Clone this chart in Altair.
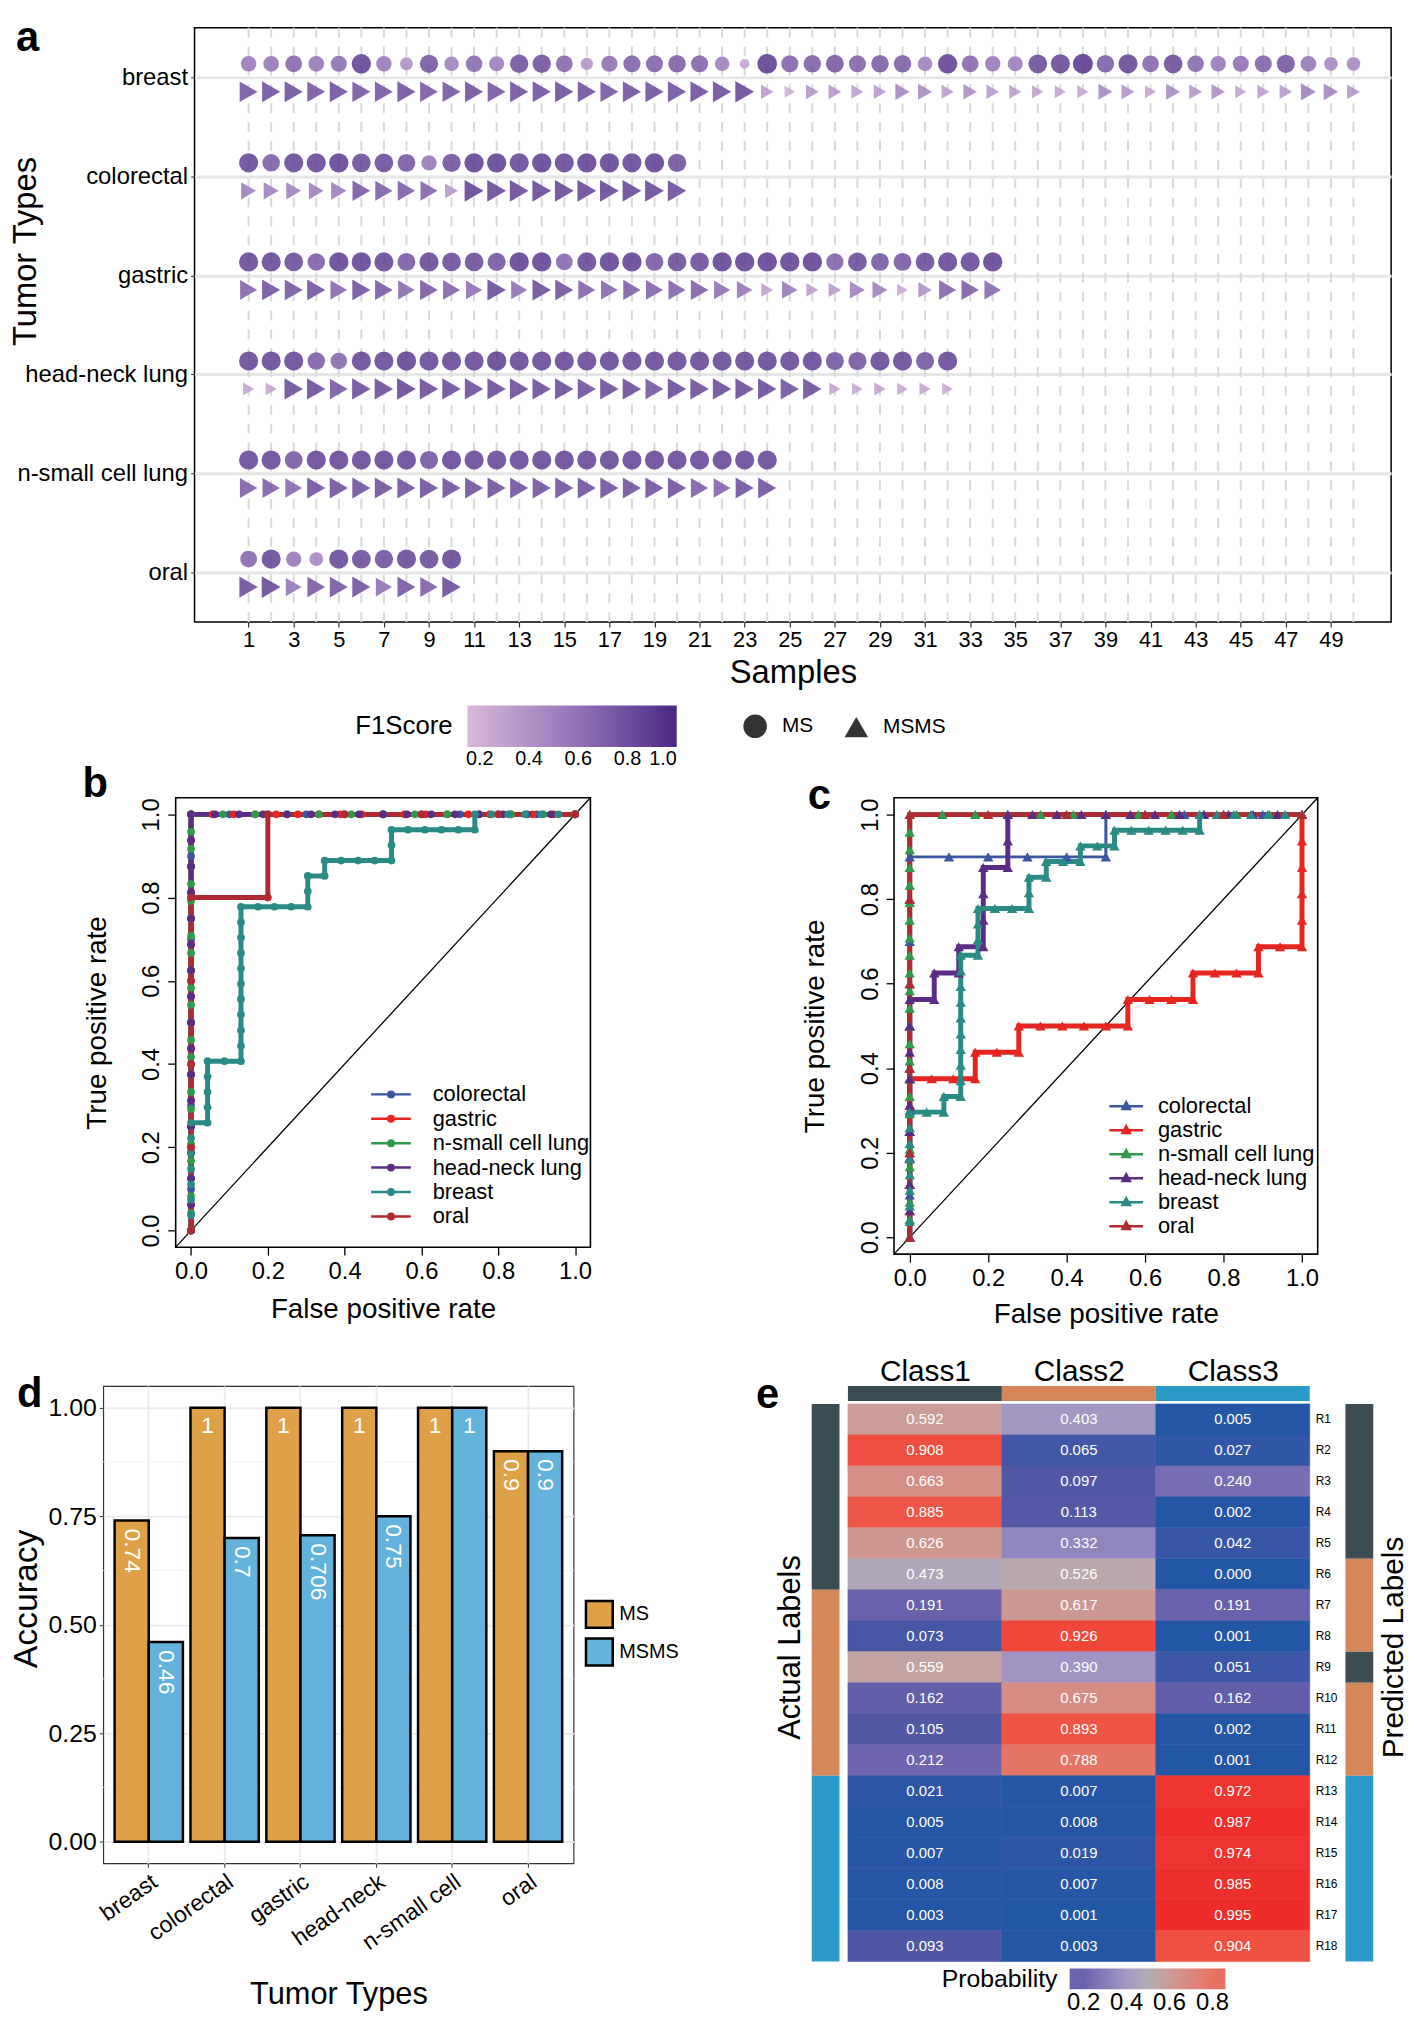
import altair as alt
import pandas as pd

FONT = "Liberation Sans"

# ---------------- panel a : F1 score per sample ----------------
TUMORS_A = ["breast", "colorectal", "gastric", "head-neck lung", "n-small cell lung", "oral"]
BREAST_MS = [0.60, 0.62, 0.70, 0.62, 0.65, 0.90, 0.60, 0.45, 0.80, 0.55,
             0.68, 0.58, 0.82, 0.82, 0.70, 0.42, 0.65, 0.72, 0.72, 0.75,
             0.72, 0.55, 0.30, 0.92, 0.72, 0.75, 0.78, 0.72, 0.75, 0.75,
             0.55, 0.90, 0.70, 0.60, 0.58, 0.85, 0.88, 0.95, 0.75, 0.88,
             0.70, 0.85, 0.68, 0.60, 0.65, 0.72, 0.80, 0.62, 0.50, 0.50]
BREAST_MSMS = [0.80, 0.82, 0.82, 0.80, 0.82, 0.80, 0.80, 0.82, 0.78, 0.80,
               0.82, 0.80, 0.82, 0.82, 0.84, 0.82, 0.80, 0.82, 0.82, 0.82,
               0.84, 0.84, 0.88, 0.38, 0.25, 0.40, 0.40, 0.35, 0.38, 0.50,
               0.48, 0.35, 0.45, 0.38, 0.35, 0.32, 0.30, 0.30, 0.48, 0.42,
               0.30, 0.48, 0.40, 0.45, 0.30, 0.35, 0.38, 0.55, 0.52, 0.40]
COLORECTAL_MS = [0.88, 0.75, 0.88, 0.88, 0.90, 0.85, 0.85, 0.78, 0.60, 0.82,
                 0.90, 0.90, 0.88, 0.90, 0.88, 0.90, 0.90, 0.88, 0.90, 0.82]
COLORECTAL_MSMS = [0.55, 0.55, 0.55, 0.55, 0.58, 0.78, 0.75, 0.75, 0.72, 0.40,
                   0.90, 0.88, 0.88, 0.88, 0.88, 0.88, 0.88, 0.88, 0.88, 0.85]
GASTRIC_MS = [0.88, 0.88, 0.85, 0.75, 0.90, 0.90, 0.88, 0.78, 0.88, 0.85,
              0.85, 0.80, 0.90, 0.90, 0.70, 0.88, 0.90, 0.90, 0.78, 0.85,
              0.85, 0.90, 0.90, 0.90, 0.90, 0.90, 0.72, 0.85, 0.78, 0.78,
              0.85, 0.88, 0.88, 0.90]
GASTRIC_MSMS = [0.72, 0.82, 0.80, 0.82, 0.70, 0.82, 0.78, 0.68, 0.78, 0.72,
                0.65, 0.85, 0.65, 0.85, 0.82, 0.72, 0.70, 0.75, 0.72, 0.72,
                0.75, 0.65, 0.60, 0.35, 0.60, 0.35, 0.38, 0.55, 0.55, 0.28,
                0.45, 0.72, 0.75, 0.68]
HNL_MS = [0.88, 0.88, 0.88, 0.75, 0.68, 0.88, 0.88, 0.90, 0.88, 0.88,
          0.88, 0.90, 0.88, 0.88, 0.88, 0.88, 0.88, 0.88, 0.88, 0.88,
          0.88, 0.88, 0.88, 0.88, 0.88, 0.88, 0.80, 0.80, 0.88, 0.88,
          0.80, 0.88]
HNL_MSMS = [0.30, 0.30, 0.85, 0.85, 0.78, 0.85, 0.85, 0.88, 0.85, 0.85,
            0.85, 0.85, 0.85, 0.85, 0.85, 0.82, 0.85, 0.85, 0.80, 0.85,
            0.85, 0.85, 0.85, 0.85, 0.82, 0.85, 0.30, 0.28, 0.32, 0.28,
            0.30, 0.28]
NSCLC_MS = [0.88, 0.88, 0.78, 0.88, 0.88, 0.88, 0.88, 0.88, 0.80, 0.88,
            0.88, 0.88, 0.88, 0.88, 0.88, 0.88, 0.88, 0.88, 0.88, 0.88,
            0.88, 0.88, 0.88, 0.88]
NSCLC_MSMS = [0.75, 0.75, 0.70, 0.82, 0.82, 0.82, 0.82, 0.82, 0.82, 0.82,
              0.82, 0.82, 0.82, 0.82, 0.82, 0.82, 0.82, 0.82, 0.82, 0.82,
              0.75, 0.72, 0.82, 0.82]
ORAL_MS = [0.70, 0.88, 0.60, 0.50, 0.88, 0.85, 0.82, 0.88, 0.85, 0.88]
ORAL_MSMS = [0.85, 0.88, 0.62, 0.78, 0.80, 0.82, 0.65, 0.80, 0.75, 0.85]
SAMPLE_TICKS = [1, 3, 5, 7, 9, 11, 13, 15, 17, 19, 21, 23, 25, 27, 29, 31, 33,
                35, 37, 39, 41, 43, 45, 47, 49]
F1_TICKS = [0.2, 0.4, 0.6, 0.8, 1.0]

# ---------------- panels b / c : ROC curves ----------------
ROC_SERIES = ["colorectal", "gastric", "n-small cell lung", "head-neck lung", "breast", "oral"]
ROC_COLORS = ["#3c55a0", "#e5251f", "#2f9a49", "#5b2c86", "#2a8a84", "#b22a31"]
ROC_TICKS = [0.0, 0.2, 0.4, 0.6, 0.8, 1.0]

B_COLORECTAL = [(0, 0), (0, 0.1), (0, 0.2), (0, 0.3), (0, 0.4), (0, 0.5), (0, 0.6), (0, 0.7),
                (0, 0.8), (0, 0.9), (0, 1), (0.1, 1), (0.2, 1), (0.3, 1), (0.4, 1), (0.5, 1),
                (0.6, 1), (0.7, 1), (0.8, 1), (0.9, 1), (1, 1)]
B_GASTRIC = [(0, 0), (0, 0.0625), (0, 0.125), (0, 0.1875), (0, 0.25), (0, 0.3125), (0, 0.375),
             (0, 0.4375), (0, 0.5), (0, 0.5625), (0, 0.625), (0, 0.6875), (0, 0.75), (0, 0.8125),
             (0, 0.875), (0, 0.9375), (0, 1), (0.056, 1), (0.111, 1), (0.167, 1), (0.222, 1),
             (0.278, 1), (0.333, 1), (0.389, 1), (0.444, 1), (0.5, 1), (0.556, 1), (0.611, 1),
             (0.667, 1), (0.722, 1), (0.778, 1), (0.833, 1), (0.889, 1), (0.944, 1), (1, 1)]
B_NSCLC = [(0, 0), (0, 0.042), (0, 0.083), (0, 0.125), (0, 0.167), (0, 0.208), (0, 0.25),
           (0, 0.292), (0, 0.333), (0, 0.375), (0, 0.417), (0, 0.458), (0, 0.5), (0, 0.542),
           (0, 0.583), (0, 0.625), (0, 0.667), (0, 0.708), (0, 0.75), (0, 0.792), (0, 0.833),
           (0, 0.875), (0, 0.917), (0, 0.958), (0, 1), (0.083, 1), (0.167, 1), (0.25, 1),
           (0.333, 1), (0.417, 1), (0.5, 1), (0.583, 1), (0.667, 1), (0.75, 1), (0.833, 1),
           (0.917, 1), (1, 1)]
B_HNL = [(0, 0), (0, 0.0625), (0, 0.125), (0, 0.1875), (0, 0.25), (0, 0.3125), (0, 0.375),
         (0, 0.4375), (0, 0.5), (0, 0.5625), (0, 0.625), (0, 0.6875), (0, 0.75), (0, 0.8125),
         (0, 0.875), (0, 0.9375), (0, 1), (0.0625, 1), (0.125, 1), (0.1875, 1), (0.25, 1),
         (0.3125, 1), (0.375, 1), (0.4375, 1), (0.5, 1), (0.5625, 1), (0.625, 1), (0.6875, 1),
         (0.75, 1), (0.8125, 1), (0.875, 1), (0.9375, 1), (1, 1)]
B_BREAST = [(0, 0), (0, 0.037), (0, 0.074), (0, 0.111), (0, 0.148), (0, 0.185), (0, 0.222),
            (0, 0.259), (0.043, 0.259), (0.043, 0.296), (0.043, 0.333), (0.043, 0.37),
            (0.043, 0.407), (0.087, 0.407), (0.13, 0.407), (0.13, 0.444), (0.13, 0.481),
            (0.13, 0.519), (0.13, 0.556), (0.13, 0.593), (0.13, 0.63), (0.13, 0.667),
            (0.13, 0.704), (0.13, 0.741), (0.13, 0.778), (0.174, 0.778), (0.217, 0.778),
            (0.261, 0.778), (0.304, 0.778), (0.304, 0.815), (0.304, 0.852), (0.348, 0.852),
            (0.348, 0.889), (0.391, 0.889), (0.435, 0.889), (0.478, 0.889), (0.522, 0.889),
            (0.522, 0.926), (0.522, 0.963), (0.565, 0.963), (0.609, 0.963), (0.652, 0.963),
            (0.696, 0.963), (0.739, 0.963), (0.739, 1), (0.783, 1), (0.826, 1), (0.87, 1),
            (0.913, 1), (0.957, 1), (1, 1)]
B_ORAL = [(0, 0), (0, 0.2), (0, 0.4), (0, 0.6), (0, 0.8), (0.2, 0.8), (0.2, 1), (0.4, 1),
          (0.6, 1), (0.8, 1), (1, 1)]

C_COLORECTAL = [(0, 0), (0, 0.1), (0, 0.2), (0, 0.3), (0, 0.4), (0, 0.5), (0, 0.6), (0, 0.7),
                (0, 0.8), (0, 0.9), (0.1, 0.9), (0.2, 0.9), (0.3, 0.9), (0.4, 0.9), (0.5, 0.9),
                (0.5, 1), (0.6, 1), (0.7, 1), (0.8, 1), (0.9, 1), (1, 1)]
C_GASTRIC = [(0, 0), (0, 0.0625), (0, 0.125), (0, 0.1875), (0, 0.25), (0, 0.3125), (0, 0.375),
             (0.056, 0.375), (0.111, 0.375), (0.167, 0.375), (0.167, 0.4375), (0.222, 0.4375),
             (0.278, 0.4375), (0.278, 0.5), (0.333, 0.5), (0.389, 0.5), (0.444, 0.5), (0.5, 0.5),
             (0.556, 0.5), (0.556, 0.5625), (0.611, 0.5625), (0.667, 0.5625), (0.722, 0.5625),
             (0.722, 0.625), (0.778, 0.625), (0.833, 0.625), (0.889, 0.625), (0.889, 0.6875),
             (0.944, 0.6875), (1, 0.6875), (1, 0.75), (1, 0.8125), (1, 0.875), (1, 0.9375),
             (1, 1)]
C_NSCLC = [(0, 0), (0, 0.042), (0, 0.083), (0, 0.125), (0, 0.167), (0, 0.208), (0, 0.25),
           (0, 0.292), (0, 0.333), (0, 0.375), (0, 0.417), (0, 0.458), (0, 0.5), (0, 0.542),
           (0, 0.583), (0, 0.625), (0, 0.667), (0, 0.708), (0, 0.75), (0, 0.792), (0, 0.833),
           (0, 0.875), (0, 0.917), (0, 0.958), (0, 1), (0.083, 1), (0.167, 1), (0.25, 1),
           (0.333, 1), (0.417, 1), (0.5, 1), (0.583, 1), (0.667, 1), (0.75, 1), (0.833, 1),
           (0.917, 1), (1, 1)]
C_HNL = [(0, 0), (0, 0.0625), (0, 0.125), (0, 0.1875), (0, 0.25), (0, 0.3125), (0, 0.375),
         (0, 0.4375), (0, 0.5), (0, 0.5625), (0.0625, 0.5625), (0.0625, 0.625), (0.125, 0.625),
         (0.125, 0.6875), (0.1875, 0.6875), (0.1875, 0.75), (0.1875, 0.8125), (0.1875, 0.875),
         (0.25, 0.875), (0.25, 0.9375), (0.25, 1), (0.3125, 1), (0.375, 1), (0.4375, 1),
         (0.5, 1), (0.5625, 1), (0.625, 1), (0.6875, 1), (0.75, 1), (0.8125, 1), (0.875, 1),
         (0.9375, 1), (1, 1)]
C_BREAST = [(0, 0), (0, 0.037), (0, 0.074), (0, 0.111), (0, 0.148), (0, 0.185), (0, 0.222),
            (0, 0.259), (0, 0.296), (0.043, 0.296), (0.087, 0.296), (0.087, 0.333),
            (0.13, 0.333), (0.13, 0.37), (0.13, 0.407), (0.13, 0.444), (0.13, 0.481),
            (0.13, 0.519), (0.13, 0.556), (0.13, 0.593), (0.13, 0.63), (0.13, 0.667),
            (0.174, 0.667), (0.174, 0.704), (0.174, 0.741), (0.174, 0.778), (0.217, 0.778),
            (0.261, 0.778), (0.304, 0.778), (0.304, 0.815), (0.304, 0.852), (0.348, 0.852),
            (0.348, 0.889), (0.391, 0.889), (0.435, 0.889), (0.435, 0.926), (0.478, 0.926),
            (0.522, 0.926), (0.522, 0.963), (0.565, 0.963), (0.609, 0.963), (0.652, 0.963),
            (0.696, 0.963), (0.739, 0.963), (0.739, 1), (0.783, 1), (0.826, 1), (0.87, 1),
            (0.913, 1), (0.957, 1), (1, 1)]
C_ORAL = [(0, 0), (0, 0.2), (0, 0.4), (0, 0.6), (0, 0.8), (0, 1), (0.2, 1), (0.4, 1),
          (0.6, 1), (0.8, 1), (1, 1)]

# ---------------- panel d : accuracy bars ----------------
D_TUMORS = ["breast", "colorectal", "gastric", "head-neck", "n-small cell", "oral"]
D_TYPES = ["MS", "MSMS"]
D_MS = [0.74, 1.0, 1.0, 1.0, 1.0, 0.9]
D_MSMS = [0.46, 0.7, 0.706, 0.75, 1.0, 0.9]
D_LABEL_MS = ["0.74", "1", "1", "1", "1", "0.9"]
D_LABEL_MSMS = ["0.46", "0.7", "0.706", "0.75", "1", "0.9"]
D_TICKS = [0.0, 0.25, 0.5, 0.75, 1.0]
D_MINOR = [0.125, 0.375, 0.625, 0.875]
D_COLORS = ["#dfa148", "#63b2dc"]

# ---------------- panel e : probability heatmap ----------------
E_CLASSES = ["Class1", "Class2", "Class3"]
E_ROWS = ["R1", "R2", "R3", "R4", "R5", "R6", "R7", "R8", "R9", "R10", "R11", "R12",
          "R13", "R14", "R15", "R16", "R17", "R18"]
E_CLASS1 = [0.592, 0.908, 0.663, 0.885, 0.626, 0.473, 0.191, 0.073, 0.559, 0.162, 0.105,
            0.212, 0.021, 0.005, 0.007, 0.008, 0.003, 0.093]
E_CLASS2 = [0.403, 0.065, 0.097, 0.113, 0.332, 0.526, 0.617, 0.926, 0.390, 0.675, 0.893,
            0.788, 0.007, 0.008, 0.019, 0.007, 0.001, 0.003]
E_CLASS3 = [0.005, 0.027, 0.240, 0.002, 0.042, 0.000, 0.191, 0.001, 0.051, 0.162, 0.002,
            0.001, 0.972, 0.987, 0.974, 0.985, 0.995, 0.904]
E_ACTUAL = ["Class1", "Class1", "Class1", "Class1", "Class1", "Class1",
            "Class2", "Class2", "Class2", "Class2", "Class2", "Class2",
            "Class3", "Class3", "Class3", "Class3", "Class3", "Class3"]
E_PREDICTED = ["Class1", "Class1", "Class1", "Class1", "Class1", "Class2",
               "Class2", "Class2", "Class1", "Class2", "Class2", "Class2",
               "Class3", "Class3", "Class3", "Class3", "Class3", "Class3"]
E_CLASS_COLORS = ["#3b4c53", "#d5875a", "#2a9bc8"]
HEAT_DOMAIN = [0.0, 0.1, 0.2, 0.4, 0.5, 0.6, 0.8, 0.9, 1.0]
HEAT_RANGE = ["#2456a6", "#5257a5", "#6b62ad", "#a397c5", "#b3acb4", "#cc9c96",
              "#e87262", "#ef5242", "#ee2a29"]
LEG_DOMAIN = [0.135, 0.2, 0.4, 0.5, 0.6, 0.8, 0.86]
LEG_RANGE = ["#6b62ad", "#6b62ad", "#a397c5", "#b3acb4", "#cc9c96", "#e87262", "#e87262"]
E_TICKS = [0.2, 0.4, 0.6, 0.8]

INDEP = dict(color="independent", fill="independent", stroke="independent",
             shape="independent", size="independent")


def letter_layer(txt, xenc, yenc, dx=0, dy=0, opacity=1):
    """Panel letter, placed through the panel's own scales (opacity 0 = layout spacer)."""
    return alt.Chart(pd.DataFrame({"t": [txt]})).mark_text(
        align="left", baseline="alphabetic", fontSize=42, fontWeight="bold", color="black",
        dx=dx, dy=dy, opacity=opacity).encode(x=xenc, y=yenc, text="t:N")


def spacer(w):
    """Empty, invisible view that only reserves horizontal room in a row."""
    return alt.Chart(pd.DataFrame({"v": [0]})).mark_point(size=0, opacity=0).encode(
        x=alt.X("v:Q", axis=None), y=alt.Y("v:Q", axis=None)).properties(
        width=w, height=1, view=alt.ViewConfig(stroke="transparent", strokeWidth=0))


# ======================= panel a =======================
A_W, A_H = 1206, 599
recs = []
for t, ms, msms in zip(TUMORS_A,
                       [BREAST_MS, COLORECTAL_MS, GASTRIC_MS, HNL_MS, NSCLC_MS, ORAL_MS],
                       [BREAST_MSMS, COLORECTAL_MSMS, GASTRIC_MSMS, HNL_MSMS, NSCLC_MSMS, ORAL_MSMS]):
    for i, v in enumerate(ms):
        recs.append({"tumor": t, "sample": i + 1, "type": "MS", "f1": v})
    for i, v in enumerate(msms):
        recs.append({"tumor": t, "sample": i + 1, "type": "MSMS", "f1": v})
df_a = pd.DataFrame(recs)
df_grid = pd.DataFrame({"sample": list(range(1, 51))})

A_XDOM = [-1.398, 51.67]
SA_X = alt.Scale(domain=A_XDOM, nice=False, zero=False)
AX_A_X = alt.Axis(values=SAMPLE_TICKS, grid=False, domain=False, title="Samples",
                  labelFontSize=22, tickSize=5, tickColor="#333333", tickWidth=1.2,
                  labelPadding=3, labelFlush=False, labelOverlap=False,
                  titleFontSize=33, titlePadding=6)
SA_Y = alt.Scale(domain=TUMORS_A, paddingInner=0, paddingOuter=0.1)
AX_A_Y = alt.Axis(title="Tumor Types", labelFontSize=24, tickSize=4, tickColor="#333333",
                  labelPadding=3, domain=False, grid=True, gridColor="#e6e6e6",
                  gridWidth=3, labelLimit=300, titleFontSize=33, titleX=-170,
                  titleY=225, titleBaseline="middle")
xa = alt.X("sample:Q", scale=SA_X, axis=AX_A_X)
ya = alt.Y("tumor:N", sort=TUMORS_A, scale=SA_Y, axis=AX_A_Y)
F1_SCALE = alt.Scale(domain=[0.15, 0.575, 1.0], range=["#dab7db", "#9676b9", "#4a2884"],
                     interpolate="rgb")
a_px = A_W / (A_XDOM[1] - A_XDOM[0])
a_step = A_H / (len(TUMORS_A) + 0.2)

a_grid = alt.Chart(df_grid).mark_rule(color="#d9d9d9", strokeWidth=2,
                                      strokeDash=[10, 9]).encode(x=xa)
a_circ = alt.Chart(df_a).transform_filter(alt.datum.type == "MS").mark_point(
    filled=True, shape="circle", opacity=0.85, yOffset=-13.6, strokeWidth=0).encode(
    x=xa, y=ya,
    color=alt.Color("f1:Q", scale=F1_SCALE, legend=alt.Legend(
        type="gradient", title="F1Score", orient="none", legendX=162, legendY=A_H + 84,
        direction="horizontal", gradientLength=211, gradientThickness=42, gradientOpacity=1,
        gradientStrokeWidth=0, titleOrient="left", titleAnchor="middle", titleBaseline="middle",
        titleFontSize=26, titlePadding=14, labelFontSize=20, values=F1_TICKS, format=".1f",
        labelOverlap=False, padding=0)),
    size=alt.Size("f1:Q", scale=alt.Scale(domain=[0.2, 1.0], range=[50, 430]), legend=None))
a_tri = alt.Chart(df_a).transform_filter(alt.datum.type == "MSMS").mark_point(
    filled=True, shape="triangle-right", opacity=0.85, yOffset=14.6, strokeWidth=0).encode(
    x=xa, y=ya,
    color=alt.Color("f1:Q", scale=F1_SCALE, legend=None),
    size=alt.Size("f1:Q", scale=alt.Scale(domain=[0.2, 1.0], range=[115, 540]), legend=None))
a_shape = alt.Chart(df_a).mark_point(filled=True, opacity=0, size=30, color="#333333").encode(
    x=xa, y=ya,
    shape=alt.Shape("type:N", scale=alt.Scale(domain=D_TYPES, range=["circle", "triangle-up"]),
                    legend=alt.Legend(title=None, orient="none", legendX=553, legendY=A_H + 93,
                                      direction="horizontal", symbolSize=560,
                                      symbolFillColor="#333333", symbolStrokeColor="#333333",
                                      symbolOpacity=1, symbolStrokeWidth=0, labelFontSize=21,
                                      labelOffset=15, columnPadding=31, padding=0)))
a_letter = letter_layer("a", alt.XDatum(A_XDOM[0] - 180 / a_px, scale=SA_X, axis=AX_A_X),
                        alt.YDatum(TUMORS_A[0], scale=SA_Y, axis=AX_A_Y),
                        dy=31 - 0.6 * a_step)
panel_a = alt.layer(a_grid, a_circ, a_tri, a_shape, a_letter).resolve_scale(
    size="independent").properties(width=A_W, height=A_H,
                                   view=alt.ViewConfig(stroke="black", strokeWidth=1.5))


# ======================= panels b / c =======================
def roc_df(lists):
    rr = []
    for name, pts in zip(ROC_SERIES, lists):
        for k, (fx, ty) in enumerate(pts):
            rr.append({"series": name, "fpr": fx, "tpr": ty, "ord": k})
    return pd.DataFrame(rr)


def roc_panel(df, w, h, shape, psize, leg_path, leg_x, leg_y, lab_off, row_pad,
              txt, l_dx, l_base, title_y, thin_first):
    dom = [-0.04, 1.04]
    sx = alt.Scale(domain=dom, nice=False, zero=False)
    sy = alt.Scale(domain=dom, nice=False, zero=False)
    axx = alt.Axis(values=ROC_TICKS, format=".1f", title="False positive rate",
                   grid=False, domain=False, labelFontSize=24, tickSize=8,
                   tickColor="black", tickWidth=1.3, labelPadding=5, labelFlush=False,
                   titleFontSize=28, titleY=title_y, titleBaseline="middle")
    axy = alt.Axis(values=ROC_TICKS, format=".1f", title="True positive rate",
                   grid=False, domain=False, labelFontSize=24, labelAngle=270,
                   labelAlign="center", labelBaseline="bottom", tickSize=8,
                   tickColor="black", tickWidth=1.3, labelPadding=4, labelFlush=False,
                   titleFontSize=28, titleX=-79, titleY=h / 2, titleBaseline="middle")
    xs = alt.X("fpr:Q", scale=sx, axis=axx)
    ys = alt.Y("tpr:Q", scale=sy, axis=axy)
    cscale = alt.Scale(domain=ROC_SERIES, range=ROC_COLORS)
    diag = alt.Chart(pd.DataFrame({"fpr": [dom[0]], "tpr": [dom[0]], "fpr2": [dom[1]],
                                   "tpr2": [dom[1]]})).mark_rule(
        color="black", strokeWidth=1.3).encode(x=xs, y=ys, x2="fpr2:Q", y2="tpr2:Q")
    if thin_first:
        sw = alt.condition(alt.datum.series == ROC_SERIES[0], alt.value(3), alt.value(5))
    else:
        sw = alt.value(5)
    lines = alt.Chart(df).mark_line(strokeCap="butt").encode(
        x=xs, y=ys, order=alt.Order("ord:Q"), strokeWidth=sw,
        color=alt.Color("series:N", scale=cscale, sort=ROC_SERIES, legend=alt.Legend(
            title=None, orient="none", legendX=leg_x, legendY=leg_y, symbolType=leg_path,
            symbolSize=100, symbolStrokeWidth=2.5, labelFontSize=22, labelOffset=lab_off,
            rowPadding=row_pad, labelLimit=400, padding=0)))
    pts = alt.Chart(df).mark_point(filled=True, shape=shape, size=psize, opacity=1,
                                   strokeWidth=0).encode(
        x=xs, y=ys, color=alt.Color("series:N", scale=cscale, sort=ROC_SERIES, legend=None))
    pxx = w / (dom[1] - dom[0])
    pxy = h / (dom[1] - dom[0])
    let = letter_layer(txt, alt.XDatum(dom[0] + l_dx / pxx, scale=sx, axis=axx),
                       alt.YDatum(dom[1] - l_base / pxy, scale=sy, axis=axy))
    # transparent copy at a common height so that b and c reserve the same space on top
    top = letter_layer(txt, alt.XDatum(dom[0] + l_dx / pxx, scale=sx, axis=axx),
                       alt.YDatum(dom[1] + 1 / pxy, scale=sy, axis=axy), opacity=0)
    return alt.layer(diag, lines, pts, let, top).properties(
        width=w, height=h, view=alt.ViewConfig(stroke="black", strokeWidth=1.6))


LEG_B = "M-4,0H4M0.55,0A0.55,0.55,0,1,1,-0.55,0A0.55,0.55,0,1,1,0.55,0"
LEG_C = "M-3.4,0H3.4M0,-0.8L0.75,0.55L-0.75,0.55Z"
df_b = roc_df([B_COLORECTAL, B_GASTRIC, B_NSCLC, B_HNL, B_BREAST, B_ORAL])
df_c = roc_df([C_COLORECTAL, C_GASTRIC, C_NSCLC, C_HNL, C_BREAST, C_ORAL])
panel_b = roc_panel(df_b, 418, 453, "circle", 60, LEG_B, 206, 288, 31, 2.6, "b", -94, -1, 63,
                    False)
panel_c = roc_panel(df_c, 427, 460, "triangle-up", 110, LEG_C, 223, 300, 21, 2.2, "c", -87, 11,
                    61, True)

# ======================= panel d =======================
df_d = pd.DataFrame({"tumor": D_TUMORS + D_TUMORS,
                     "type": [D_TYPES[0]] * len(D_TUMORS) + [D_TYPES[1]] * len(D_TUMORS),
                     "acc": D_MS + D_MSMS, "label": D_LABEL_MS + D_LABEL_MSMS})
D_W, D_H = 474, 481
D_YDOM = [-0.05, 1.05]
SD_X = alt.Scale(domain=D_TUMORS, paddingInner=0, paddingOuter=0.1)
AX_D_X = alt.Axis(title="Tumor Types", labelAngle=-35, labelAlign="right",
                  labelBaseline="top", labelFontSize=23, tickSize=4, tickColor="#333333",
                  labelPadding=3, domain=False, grid=True, gridColor="#ebebeb",
                  gridWidth=1.8, labelLimit=300, titleFontSize=31, titleY=132,
                  titleBaseline="middle")
SD_Y = alt.Scale(domain=D_YDOM, nice=False, zero=False)
AX_D_Y = alt.Axis(values=D_TICKS, format=".2f", title="Accuracy", grid=True,
                  gridColor="#ebebeb", gridWidth=1.8, domain=False, tickSize=4,
                  tickColor="#333333", labelFontSize=25, labelPadding=3,
                  labelFlush=False, titleFontSize=34, titleX=-77, titleY=214,
                  titleBaseline="middle")
xd = alt.X("tumor:N", sort=D_TUMORS, scale=SD_X, axis=AX_D_X)
xo = alt.XOffset("type:N", sort=D_TYPES,
                 scale=alt.Scale(domain=D_TYPES, paddingInner=0, paddingOuter=0.111))
yd = alt.Y("acc:Q", scale=SD_Y, axis=AX_D_Y)
d_minor = alt.Chart(pd.DataFrame({"acc": D_MINOR})).mark_rule(
    color="#f4f4f4", strokeWidth=1).encode(y=yd)
d_bars = alt.Chart(df_d).mark_bar(stroke="black", strokeWidth=2.5).encode(
    x=xd, xOffset=xo, y=yd, y2=alt.datum(0),
    fill=alt.Fill("type:N", scale=alt.Scale(domain=D_TYPES, range=D_COLORS),
                  legend=alt.Legend(title=None, orient="none", legendX=485, legendY=215,
                                    symbolType="square", symbolSize=729,
                                    symbolStrokeColor="black", symbolStrokeWidth=2.5,
                                    labelFontSize=20, labelOffset=5, rowPadding=0, padding=0)))
d_txt_rot = alt.Chart(df_d).transform_filter(alt.datum.acc < 1).mark_text(
    angle=90, align="left", baseline="middle", dx=8, color="white", fontSize=23).encode(
    x=xd, xOffset=xo, y=yd, text="label:N")
d_txt_one = alt.Chart(df_d).transform_filter(alt.datum.acc >= 1).mark_text(
    align="center", baseline="top", dy=7, color="white", fontSize=23).encode(
    x=xd, xOffset=xo, y=yd, text="label:N")
d_step = D_W / (len(D_TUMORS) + 0.2)
d_ypx = D_H / (D_YDOM[1] - D_YDOM[0])
d_letter = letter_layer("d", alt.XDatum(D_TUMORS[0], scale=SD_X, axis=AX_D_X),
                        alt.YDatum(D_YDOM[1] - 21 / d_ypx, scale=SD_Y, axis=AX_D_Y),
                        dx=-87 - 0.6 * d_step)
d_spacer = letter_layer("d", alt.XDatum(D_TUMORS[0], scale=SD_X, axis=AX_D_X),
                        alt.YDatum(D_YDOM[1] + 30 / d_ypx, scale=SD_Y, axis=AX_D_Y),
                        dx=-0.6 * d_step, opacity=0)
panel_d = alt.layer(d_minor, d_bars, d_txt_rot, d_txt_one, d_letter, d_spacer).properties(
    width=D_W, height=D_H, view=alt.ViewConfig(stroke="#333333", strokeWidth=1.2))

# ======================= panel e =======================
CELL_W, ROW_H = 155.0, 31.22
ANNOT_W, LEFT_GAP, RIGHT_GAP, TOP_GAP, TOP_H = 28.0, 8.5, 36.0, 3.0, 15.0
n_cls, n_rows = len(E_CLASSES), len(E_ROWS)
ex0 = -(LEFT_GAP + ANNOT_W) / CELL_W
ex1 = n_cls + (RIGHT_GAP + ANNOT_W) / CELL_W
ey0 = -(TOP_GAP + TOP_H) / ROW_H
E_W = round((ex1 - ex0) * CELL_W)
E_H = round((n_rows - ey0) * ROW_H)

cells = []
for r in range(n_rows):
    for c, vals in enumerate([E_CLASS1, E_CLASS2, E_CLASS3]):
        cells.append({"x0": c, "x1": c + 1, "y0": r, "y1": r + 1, "xc": c + 0.5,
                      "yc": r + 0.5, "p": vals[r]})
df_cells = pd.DataFrame(cells)


def runs(labels, xa0, xa1):
    out, start = [], 0
    for i in range(1, len(labels) + 1):
        if i == len(labels) or labels[i] != labels[start]:
            out.append({"cls": labels[start], "y0": start, "y1": i, "x0": xa0, "x1": xa1})
            start = i
    return pd.DataFrame(out)


df_left = runs(E_ACTUAL, ex0, -LEFT_GAP / CELL_W)
df_right = runs(E_PREDICTED, n_cls + RIGHT_GAP / CELL_W, ex1)
df_top = pd.DataFrame([{"cls": k, "x0": c, "x1": c + 1, "y0": ey0, "y1": -TOP_GAP / ROW_H}
                       for c, k in enumerate(E_CLASSES)])
df_rowlab = pd.DataFrame({"row": E_ROWS, "yc": [r + 0.5 for r in range(n_rows)],
                          "xr": [n_cls] * n_rows})

exs = alt.Scale(domain=[ex0, ex1], nice=False, zero=False)
eys = alt.Scale(domain=[ey0, n_rows], nice=False, zero=False, reverse=True)
HEAT = alt.Scale(domain=HEAT_DOMAIN, range=HEAT_RANGE, interpolate="rgb")
CLS_FILL = alt.Fill("cls:N", scale=alt.Scale(domain=E_CLASSES, range=E_CLASS_COLORS), legend=None)
AX_TOP = alt.Axis(orient="top", values=[0.5, 1.5, 2.5],
                  labelExpr="datum.value < 1 ? 'Class1' : (datum.value < 2 ? 'Class2' : 'Class3')",
                  ticks=False, domain=False, grid=False, labelFontSize=30, labelPadding=6,
                  labelBaseline="alphabetic", title=None)


def ex(field):
    return alt.X(field, scale=exs, axis=AX_TOP)


def ey(field):
    return alt.Y(field, scale=eys, axis=None)


e_leg = alt.Chart(df_cells).mark_point(size=0, filled=True).encode(
    x=ex("xc:Q"), y=ey("yc:Q"),
    color=alt.Color("p:Q", scale=alt.Scale(domain=LEG_DOMAIN, range=LEG_RANGE, interpolate="rgb"),
                    legend=alt.Legend(type="gradient", title="Probability", orient="none",
                                      legendX=131, legendY=587, direction="horizontal",
                                      gradientLength=157, gradientThickness=21,
                                      gradientOpacity=1, gradientStrokeWidth=0,
                                      titleOrient="left", titleAnchor="middle",
                                      titleBaseline="middle", titleFontSize=25, titlePadding=12,
                                      labelFontSize=24, values=E_TICKS, format=".1f",
                                      labelOverlap=False, padding=0)))
e_cells = alt.Chart(df_cells).mark_rect(strokeWidth=0.6).encode(
    x=ex("x0:Q"), x2="x1:Q", y=ey("y0:Q"), y2="y1:Q",
    color=alt.Color("p:Q", scale=HEAT, legend=None),
    stroke=alt.Stroke("p:Q", scale=HEAT, legend=None))
e_top = alt.Chart(df_top).mark_rect().encode(
    x=ex("x0:Q"), x2="x1:Q", y=ey("y0:Q"), y2="y1:Q", fill=CLS_FILL)
e_left = alt.Chart(df_left).mark_rect().encode(
    x=ex("x0:Q"), x2="x1:Q",
    y=alt.Y("y0:Q", scale=eys, axis=alt.Axis(orient="left", title="Actual Labels", labels=False,
                                             ticks=False, domain=False, grid=False,
                                             titleFontSize=31, titleX=-21, titleY=263,
                                             titleBaseline="middle")),
    y2="y1:Q", fill=CLS_FILL)
e_right = alt.Chart(df_right).mark_rect().encode(
    x=ex("x0:Q"), x2="x1:Q",
    y=alt.Y("y0:Q", scale=eys, axis=alt.Axis(orient="right", title="Predicted Labels",
                                             labels=False, ticks=False, domain=False,
                                             grid=False, titleFontSize=30, titleAngle=270,
                                             titleX=20, titleY=263, titleBaseline="middle")),
    y2="y1:Q", fill=CLS_FILL)
e_txt = alt.Chart(df_cells).mark_text(color="white", fontSize=15).encode(
    x=ex("xc:Q"), y=ey("yc:Q"), text=alt.Text("p:Q", format=".3f"))
e_rows = alt.Chart(df_rowlab).mark_text(align="left", dx=6, fontSize=12, color="black").encode(
    x=ex("xr:Q"), y=ey("yc:Q"), text="row:N")
e_letter = letter_layer("e", alt.XDatum(ex0 - 56 / CELL_W, scale=exs, axis=AX_TOP),
                        alt.YDatum(ey0 + 22 / ROW_H, scale=eys, axis=None))
e_spacer = letter_layer("e", alt.XDatum(1.0, scale=exs, axis=AX_TOP),
                        alt.YDatum(ey0 - 30 / ROW_H, scale=eys, axis=None), opacity=0)
panel_e = alt.layer(e_cells, e_top, e_left, e_right, e_txt, e_rows, e_leg, e_letter,
                    e_spacer).resolve_scale(color="independent").resolve_axis(
    y="independent").properties(width=E_W, height=E_H,
                                view=alt.ViewConfig(stroke="transparent", strokeWidth=0))

# ======================= layout =======================
# Every row starts with a narrow empty view so that all rows share the same left origin;
# the panels then follow at their own offsets.
row1 = alt.hconcat(spacer(1), panel_a, spacing=0).resolve_scale(**INDEP)
inner2 = alt.hconcat(panel_b, panel_c, spacing=209).resolve_scale(**INDEP)
row2 = alt.hconcat(spacer(74), inner2, spacing=0).resolve_scale(**INDEP)
inner3 = alt.hconcat(panel_d, panel_e, spacing=76).resolve_scale(**INDEP)
row3 = alt.hconcat(spacer(1), inner3, spacing=0).resolve_scale(**INDEP)
chart = alt.vconcat(row1, row2, row3, spacing=-8).resolve_scale(
    **INDEP).properties(padding=0, background="white").configure(font=FONT).configure_axis(
    labelFont=FONT, titleFont=FONT, labelColor="black", titleColor="black",
    titleFontWeight="normal").configure_legend(
    labelFont=FONT, titleFont=FONT, labelColor="black", titleColor="black",
    titleFontWeight="normal").configure_title(font=FONT, color="black")

chart.save("out.html", embed_options={"renderer": "svg", "actions": False})
